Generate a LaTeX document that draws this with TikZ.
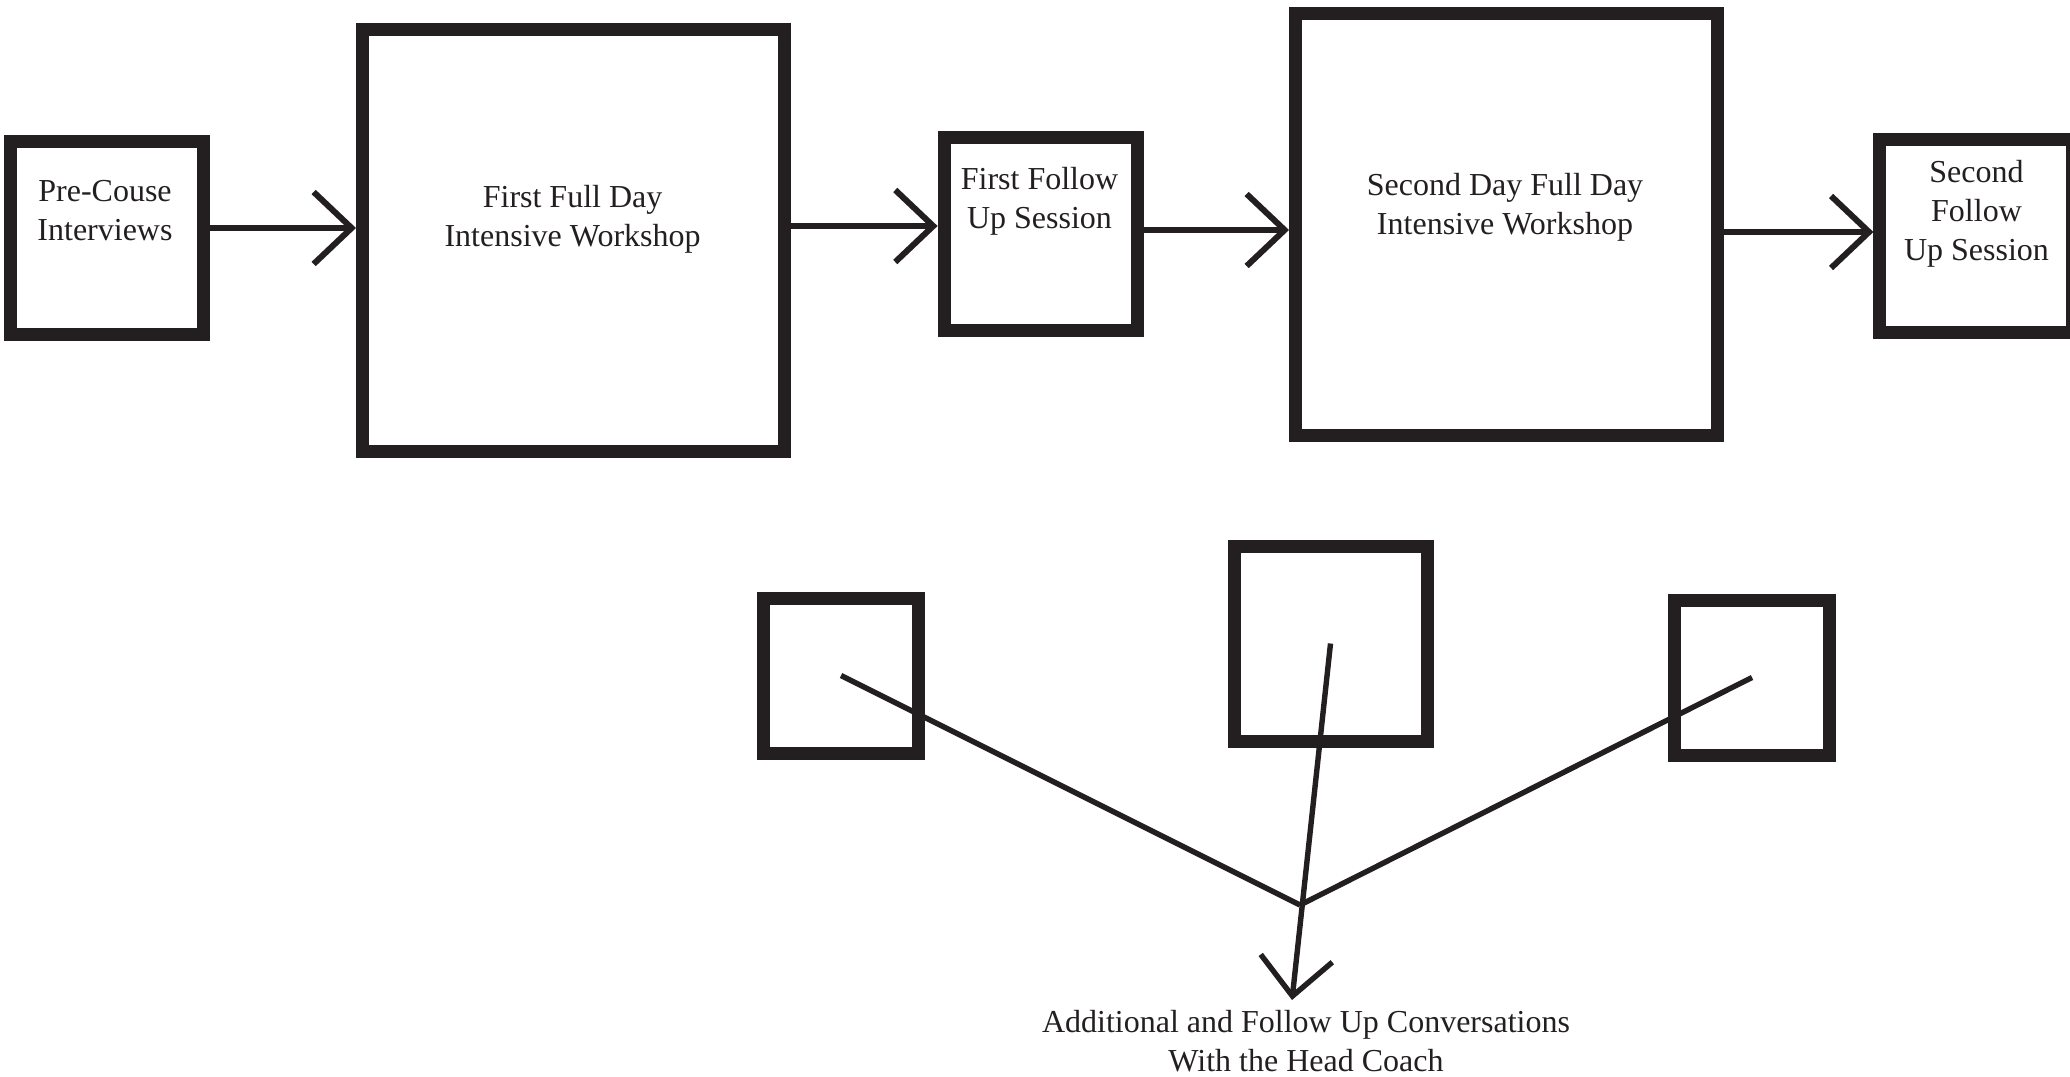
\documentclass[tikz,border=0pt]{standalone}
\usepackage{fontspec}
\setmainfont{Liberation Serif}
\usetikzlibrary{arrows.meta,calc}
\definecolor{ink}{HTML}{231F20}
\tikzset{
    stage/.style={draw=ink, line width=6.5pt, inner sep=0pt},
    small/.style={minimum width=96.5pt, minimum height=96.5pt},
    big/.style={minimum width=211pt, minimum height=211pt},
    tiny/.style={minimum width=77.5pt, minimum height=77.5pt},
    words/.style={align=center, inner sep=0pt, text=ink,
        font=\fontsize{16}{19.5}\selectfont},
    flow/.style={draw=ink, line width=3pt,
        -{Straight Barb[length=19pt, width=36pt, line cap=butt, line join=miter]}},
    link/.style={draw=ink, line width=2.7pt}
}
\begin{document}
\begin{tikzpicture}[x=0.5pt, y=-0.5pt]
            \useasboundingbox (0,0) rectangle (2070,1076);
            % top row
            \node[stage, small] (pre) at (107, 238) {};
            \node[stage, big] (first) at (573.5, 240) {};
            \node[stage, small] (fup1) at (1040.6, 234) {};
            \node[stage, big] (second) at (1506.5, 224) {};
            \node[stage, small] (fup2) at (1976.4, 236) {};
            \node[words] (pretext) at (105, 210.5) {Pre-Couse\\Interviews};
            \node[words] (firsttext) at (572.6, 219) {First Full Day\\Intensive Workshop};
            \node[words] (fup1text) at (1039.5, 201.5) {First Follow\\Up Session};
            \node[words] (secondtext) at (1505, 207) {Second Day Full Day\\Intensive Workshop};
            \node[words] (fup2text) at (1976.5, 214) {Second\\Follow\\Up Session};
            \draw[flow] ($(pre.east)+(0,-10)$) -- ($(pre.east -| first.west)+(0,-10)$);
            \draw[flow] ($(first.east)+(0,-14)$) -- ($(first.east -| fup1.west)+(0,-14)$);
            \draw[flow] ($(fup1.east)+(0,-4)$) -- ($(fup1.east -| second.west)+(0,-4)$);
            \draw[flow] ($(second.east)+(0,8)$) -- ($(second.east -| fup2.west)+(0,8)$);
            % bottom part
            \node[stage, tiny] (callL) at (841, 675.5) {};
            \node[stage, minimum width=96.5pt, minimum height=97.5pt] (callM) at (1330.5, 643.5) {};
            \node[stage, tiny] (callR) at (1752, 677.5) {};
            \coordinate (join) at (1300, 905);
            \coordinate (coach) at (1292, 1000);
            \draw[link] (callL.center) -- (join);
            \draw[link] (callR.center) -- (join);
            \draw[flow, line width=2.7pt] (callM.center) -- (coach);
            \node[words] (coachtext) at (1306, 1041) {Additional and Follow Up Conversations\\With the Head Coach};
        \end{tikzpicture}
\end{document}
